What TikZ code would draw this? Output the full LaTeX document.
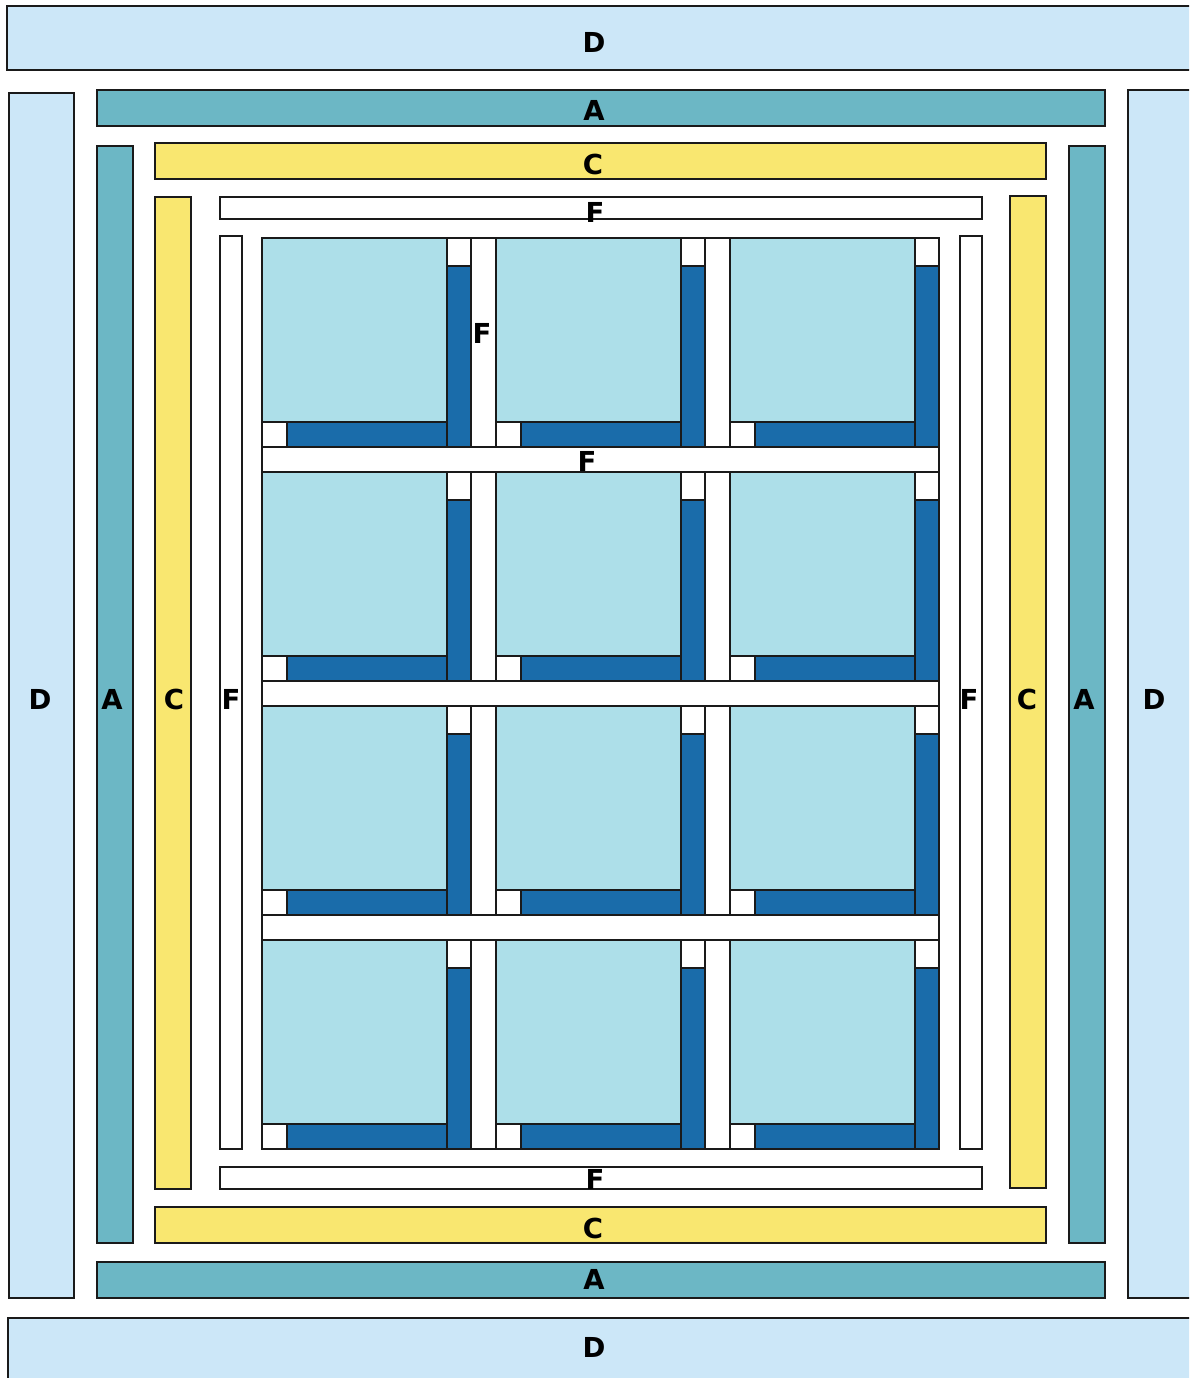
\documentclass[tikz,border=0pt]{standalone}
\usepackage{fontspec}
\setmainfont{DejaVu Sans}
\definecolor{edge}{RGB}{26,26,26}
\definecolor{bandD}{RGB}{204,231,248}
\definecolor{bandA}{RGB}{108,183,197}
\definecolor{bandC}{RGB}{249,231,112}
\definecolor{lite}{RGB}{173,223,233}
\definecolor{deep}{RGB}{26,108,170}

\begin{document}
\begin{tikzpicture}[x=1pt,y=-1pt,
    piece/.style={draw=edge,line width=1.8pt},
    lbl/.style={font=\fontsize{27.5}{30}\selectfont\bfseries,inner sep=0pt}]
  \clip (0,0) rectangle (1189,1378);
  \fill[white] (0,0) rectangle (1189,1378);
  % outer border D
  \draw[piece,fill=bandD] (7,6) rectangle (1200,70);
  \draw[piece,fill=bandD] (8,1318) rectangle (1200,1390);
  \draw[piece,fill=bandD] (9,93) rectangle (74,1298);
  \draw[piece,fill=bandD] (1128,90) rectangle (1200,1298);
  % border A
  \draw[piece,fill=bandA] (97,90) rectangle (1105,126);
  \draw[piece,fill=bandA] (97,1262) rectangle (1105,1298);
  \draw[piece,fill=bandA] (97,146) rectangle (133,1243);
  \draw[piece,fill=bandA] (1069,146) rectangle (1105,1243);
  % border C
  \draw[piece,fill=bandC] (155,143) rectangle (1046,179);
  \draw[piece,fill=bandC] (155,1207) rectangle (1046,1243);
  \draw[piece,fill=bandC] (155,197) rectangle (191,1189);
  \draw[piece,fill=bandC] (1010,196) rectangle (1046,1188);
  % border F
  \draw[piece,fill=white] (220,197) rectangle (982,219);
  \draw[piece,fill=white] (220,1167) rectangle (982,1189);
  \draw[piece,fill=white] (220,236) rectangle (242,1149);
  \draw[piece,fill=white] (960,236) rectangle (982,1149);
  % blocks
  \foreach \bx in {262,496,730}{
    \foreach \by in {238,472,706,940}{
      \begin{scope}[shift={(\bx,\by)}]
        \draw[piece,fill=lite] (0,0) rectangle (185,184);
        \draw[piece,fill=white] (185,0) rectangle (209,28);
        \draw[piece,fill=deep] (185,28) rectangle (209,209);
        \draw[piece,fill=white] (0,184) rectangle (25,209);
        \draw[piece,fill=deep] (25,184) rectangle (185,209);
      \end{scope}
    }
  }
  % sashing
  \foreach \by in {238,472,706,940}{
    \foreach \sx in {471,705}
      \draw[piece,fill=white] (\sx,\by) rectangle +(25,209);
  }
  \foreach \sy in {447,681,915}
    \draw[piece,fill=white] (262,\sy) rectangle (939,\sy+25);
  % labels
  \node[lbl] (dtop) at (594,42) {D};
  \node[lbl] (dbot) at (594,1347) {D};
  \node[lbl] (dlft) at (40,699) {D};
  \node[lbl] (drgt) at (1154,699) {D};
  \node[lbl] (atop) at (594,110) {A};
  \node[lbl] (abot) at (594,1279) {A};
  \node[lbl] (alft) at (112,699) {A};
  \node[lbl] (argt) at (1084,699) {A};
  \node[lbl] (ctop) at (593,164) {C};
  \node[lbl] (cbot) at (593,1228) {C};
  \node[lbl] (clft) at (174,699) {C};
  \node[lbl] (crgt) at (1027,699) {C};
  \node[lbl] (ftop) at (595,212) {F};
  \node[lbl] (fbot) at (595,1179) {F};
  \node[lbl] (flft) at (231,699) {F};
  \node[lbl] (frgt) at (969,699) {F};
  \node[lbl] (fcol) at (482,333) {F};
  \node[lbl] (frow) at (587,461) {F};
\end{tikzpicture}
\end{document}
